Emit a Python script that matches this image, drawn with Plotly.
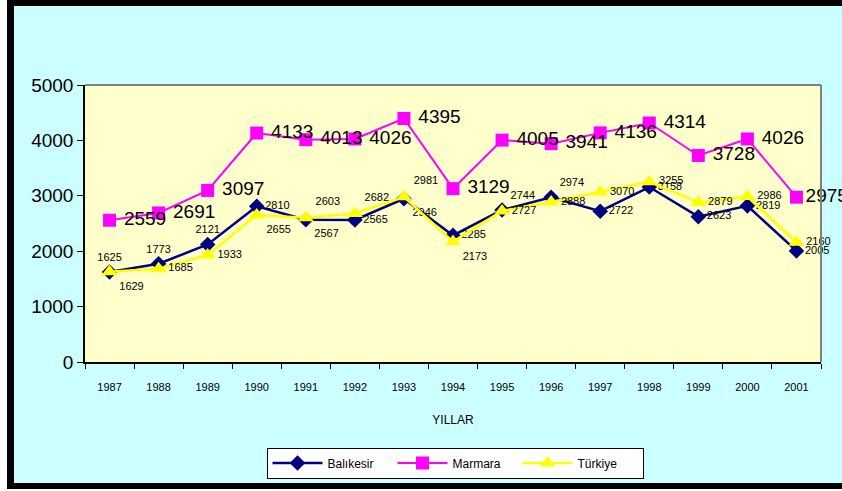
import plotly.graph_objects as go

# Veriler
yillar = ["1987", "1988", "1989", "1990", "1991", "1992", "1993", "1994",
          "1995", "1996", "1997", "1998", "1999", "2000", "2001"]
balikesir = [1625, 1773, 2121, 2810, 2567, 2565, 2946, 2285, 2744, 2974,
             2722, 3158, 2623, 2819, 2005]
marmara = [2559, 2691, 3097, 4133, 4013, 4026, 4395, 3129, 4005, 3941,
           4136, 4314, 3728, 4026, 2975]
turkiye = [1629, 1685, 1933, 2655, 2603, 2682, 2981, 2173, 2727, 2888,
           3070, 3255, 2879, 2986, 2160]

# Etiket konumlari (resimden)
poz_balikesir = ["top center", "top center", "top center", "middle right",
                 "bottom right", "middle right", "bottom right", "middle right",
                 "top right", "top right", "middle right", "middle right",
                 "middle right", "middle right", "middle right"]
poz_turkiye = ["bottom right", "middle right", "middle right", "bottom right",
               "top right", "top right", "top right", "bottom right",
               "middle right", "middle right", "middle right", "middle right",
               "middle right", "middle right", "middle right"]

FONT = "Arial, Liberation Sans, sans-serif"

# Piksel -> paper koordinat (cizim alani: x 85..821, y 85..362)
L, R, T, B = 85, 821, 85, 362
W, H = 842, 491


def px(x):
    return (x - L) / (R - L)


def py(y):
    return (B - y) / (B - T)


# Marmara etiketleri: sonuncusu hariç biraz sağa kaydır
marmara_text = ["\u00a0" + str(v) for v in marmara[:-1]] + [str(marmara[-1])]

fig = go.Figure()

fig.add_trace(go.Scatter(
    x=yillar, y=balikesir, name="Balıkesir",
    mode="lines+markers+text",
    line=dict(color="#000080", width=2.5),
    marker=dict(symbol="diamond", size=12, color="#000080"),
    text=[str(v) for v in balikesir], textposition=poz_balikesir,
    textfont=dict(size=11, color="black", family=FONT),
    cliponaxis=False
))
fig.add_trace(go.Scatter(
    x=yillar, y=marmara, name="Marmara",
    mode="lines+markers+text",
    line=dict(color="#FF00FF", width=2),
    marker=dict(symbol="square", size=13, color="#FF00FF"),
    text=marmara_text, textposition="middle right",
    textfont=dict(size=19, color="black", family=FONT),
    cliponaxis=False
))
fig.add_trace(go.Scatter(
    x=yillar, y=turkiye, name="Türkiye",
    mode="lines+markers+text",
    line=dict(color="#FFFF00", width=2.5),
    marker=dict(symbol="triangle-up", size=14, color="#FFFF00"),
    text=[str(v) for v in turkiye], textposition=poz_turkiye,
    textfont=dict(size=11, color="black", family=FONT),
    cliponaxis=False
))

# Cizim alani ust ve sag gri kenar
fig.add_shape(type="line", xref="paper", yref="paper", x0=0, y0=1, x1=1, y1=1,
              line=dict(color="#808080", width=2))
fig.add_shape(type="line", xref="paper", yref="paper", x0=1, y0=0, x1=1, y1=1,
              line=dict(color="#808080", width=2))

# Siyah cerceve
fig.add_shape(type="rect", xref="paper", yref="paper",
              x0=px(0), x1=px(7), y0=py(H), y1=py(0),
              fillcolor="white", line=dict(width=0))
fig.add_shape(type="rect", xref="paper", yref="paper",
              x0=px(7), x1=px(14), y0=py(489), y1=py(0),
              fillcolor="black", line=dict(width=0))
fig.add_shape(type="rect", xref="paper", yref="paper",
              x0=px(7), x1=px(W + 10), y0=py(6), y1=py(0),
              fillcolor="black", line=dict(width=0))
fig.add_shape(type="rect", xref="paper", yref="paper",
              x0=px(7), x1=px(W + 10), y0=py(489), y1=py(483),
              fillcolor="black", line=dict(width=0))
fig.add_shape(type="rect", xref="paper", yref="paper",
              x0=px(0), x1=px(W + 10), y0=py(H), y1=py(489),
              fillcolor="white", line=dict(width=0))

fig.update_layout(
    width=W, height=H,
    margin=dict(l=L, r=W - R, t=T, b=H - B),
    paper_bgcolor="#CCFFFF",
    plot_bgcolor="#FFFFCC",
    font=dict(family=FONT, color="black"),
    showlegend=True,
    legend=dict(
        orientation="h", x=px(455), y=py(463),
        xanchor="center", yanchor="middle",
        bgcolor="white", bordercolor="black", borderwidth=1,
        font=dict(size=12, family=FONT, color="black"),
        itemwidth=50, entrywidth=60
    ),
    xaxis=dict(
        type="category", range=[-0.5, len(yillar) - 0.5],
        showgrid=False, zeroline=False,
        showline=True, linecolor="black", linewidth=1.5,
        ticks="outside", tickson="boundaries", ticklen=5, tickcolor="black",
        tickfont=dict(size=11), ticklabelstandoff=14,
        title=dict(text="YILLAR", font=dict(size=12), standoff=24)
    ),
    yaxis=dict(
        range=[0, 5000], dtick=1000, showgrid=False, zeroline=False,
        showline=True, linecolor="black", linewidth=1.5,
        ticks="outside", ticklen=6, tickcolor="black",
        tickfont=dict(size=19)
    )
)

fig.write_html(
    "out.html",
    config={"displayModeBar": False},
    post_script="document.body.style.margin='0';"
                "document.body.style.overflow='hidden';"
                "document.body.style.background='#CCFFFF';"
)
